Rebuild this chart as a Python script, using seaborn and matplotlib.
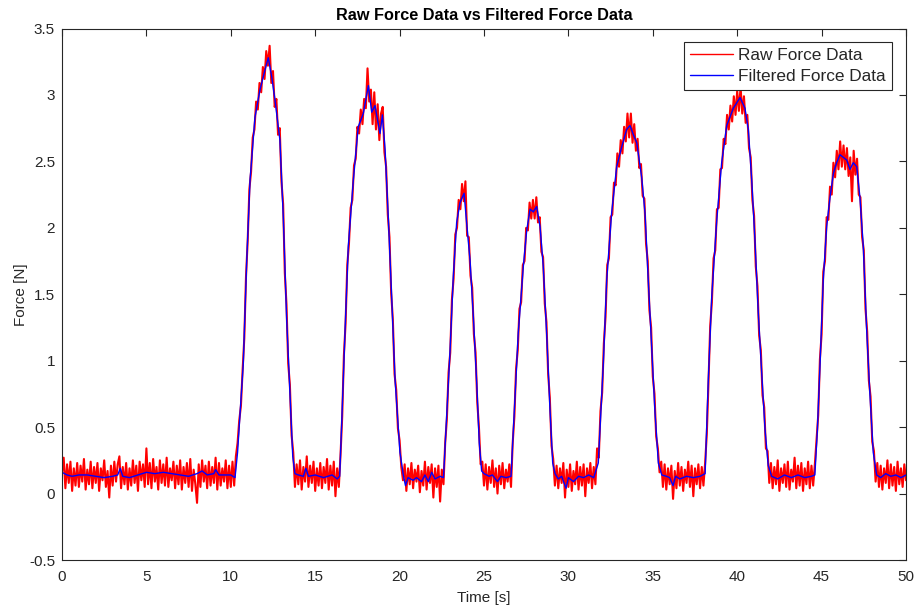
import numpy as np
import pandas as pd
import matplotlib
matplotlib.use("Agg")
import matplotlib.pyplot as plt
import seaborn as sns

# ---------------- data ----------------
sample_interval = 0.1  # s, spacing of the raw samples below (t = 0.0 ... 50.0)

raw_force = [
    0.16, 0.27, 0.04, 0.22, 0.08, 0.24, 0.02, 0.19, 0.06, 0.23,   # 0 s
    0.05, 0.21, 0.09, 0.26, 0.03, 0.18, 0.07, 0.24, 0.04, 0.20,   # 1 s
    0.08, 0.23, 0.02, 0.19, 0.10, 0.25, 0.05, 0.17, -0.03, 0.21,  # 2 s
    0.06, 0.24, 0.09, 0.22, 0.28, 0.04, 0.20, 0.07, 0.23, 0.03,   # 3 s
    0.19, 0.06, 0.25, 0.08, 0.21, 0.02, 0.24, 0.10, 0.22, 0.05,   # 4 s
    0.34, 0.07, 0.23, 0.04, 0.26, 0.09, 0.20, 0.03, 0.25, 0.08,   # 5 s
    0.22, 0.06, 0.27, 0.05, 0.19, 0.10, 0.24, 0.04, 0.21, 0.07,   # 6 s
    0.25, 0.03, 0.20, 0.08, 0.23, 0.05, 0.26, 0.02, 0.18, 0.07,   # 7 s
    -0.07, 0.22, 0.05, 0.25, 0.09, 0.21, 0.04, 0.24, 0.06, 0.20,  # 8 s
    0.08, 0.27, 0.03, 0.23, 0.06, 0.19, 0.09, 0.25, 0.04, 0.21,   # 9 s
    0.05, 0.24, 0.06, 0.28, 0.38, 0.55, 0.66, 0.93, 1.17, 1.63,   # 10 s
    1.90, 2.29, 2.42, 2.68, 2.74, 2.95, 2.89, 3.09, 3.02, 3.21,   # 11 s
    3.12, 3.33, 3.22, 3.37, 3.09, 3.18, 2.91, 2.97, 2.70, 2.75,   # 12 s
    2.35, 2.18, 1.66, 1.42, 0.98, 0.82, 0.44, 0.31, 0.05, 0.22,   # 13 s
    0.07, 0.25, 0.03, 0.20, 0.09, 0.28, 0.05, 0.21, 0.08, 0.24,   # 14 s
    0.02, 0.19, 0.06, 0.23, 0.04, 0.20, 0.08, 0.26, 0.03, 0.21,   # 15 s
    0.06, 0.24, -0.02, 0.19, 0.05, 0.29, 0.58, 1.04, 1.28, 1.72,  # 16 s
    1.88, 2.15, 2.21, 2.47, 2.52, 2.76, 2.71, 2.89, 2.78, 2.97,   # 17 s
    2.90, 3.20, 2.95, 3.04, 2.78, 3.02, 2.74, 2.93, 2.66, 2.86,   # 18 s
    2.91, 2.57, 2.46, 2.10, 1.93, 1.51, 1.31, 0.90, 0.78, 0.49,   # 19 s
    0.40, 0.20, 0.10, 0.22, 0.02, 0.19, 0.07, 0.23, 0.04, 0.18,   # 20 s
    0.09, 0.21, 0.01, 0.17, 0.06, 0.24, 0.03, 0.20, 0.08, 0.22,   # 21 s
    -0.03, 0.19, 0.05, 0.21, -0.06, 0.18, 0.07, 0.38, 0.56, 0.91, # 22 s
    1.06, 1.46, 1.62, 1.95, 2.00, 2.21, 2.14, 2.33, 2.20, 2.35,   # 23 s
    1.94, 1.93, 1.64, 1.55, 1.20, 1.06, 0.69, 0.50, 0.22, 0.24,   # 24 s
    0.06, 0.22, 0.03, 0.20, 0.08, 0.25, 0.05, 0.19, 0.00, 0.21,   # 25 s
    0.07, 0.23, 0.04, 0.18, 0.09, 0.22, 0.05, 0.38, 0.58, 0.94,   # 26 s
    1.08, 1.39, 1.44, 1.72, 1.75, 2.00, 1.98, 2.19, 2.07, 2.21,   # 27 s
    2.07, 2.23, 2.04, 2.08, 1.82, 1.78, 1.43, 1.29, 0.90, 0.72,   # 28 s
    0.36, 0.26, 0.06, 0.21, 0.04, 0.19, 0.08, 0.23, -0.03, 0.18,  # 29 s
    0.05, 0.22, 0.02, 0.17, 0.07, 0.24, 0.03, 0.20, 0.06, 0.22,   # 30 s
    -0.02, 0.19, 0.08, 0.23, 0.04, 0.20, 0.07, 0.34, 0.27, 0.62,  # 31 s
    0.76, 1.13, 1.33, 1.72, 1.77, 2.08, 2.10, 2.34, 2.32, 2.56,   # 32 s
    2.46, 2.66, 2.56, 2.76, 2.65, 2.86, 2.68, 2.86, 2.64, 2.78,   # 33 s
    2.58, 2.67, 2.45, 2.48, 2.24, 2.22, 1.88, 1.75, 1.38, 1.25,   # 34 s
    0.88, 0.75, 0.43, 0.34, 0.16, 0.24, 0.05, 0.22, 0.03, 0.19,   # 35 s
    0.07, 0.21, -0.04, 0.17, 0.04, 0.23, 0.06, 0.20, 0.02, 0.18,  # 36 s
    0.08, 0.24, 0.05, 0.21, -0.02, 0.19, 0.07, 0.22, 0.04, 0.20,  # 37 s
    0.06, 0.23, 0.45, 0.84, 1.26, 1.44, 1.77, 1.83, 2.14, 2.15,   # 38 s
    2.44, 2.45, 2.67, 2.63, 2.85, 2.74, 2.92, 2.80, 2.99, 2.85,   # 39 s
    3.03, 2.88, 3.06, 2.86, 2.99, 2.79, 2.85, 2.60, 2.53, 2.21,   # 40 s
    2.09, 1.71, 1.56, 1.19, 1.08, 0.74, 0.65, 0.34, 0.32, 0.08,   # 41 s
    0.23, 0.04, 0.20, 0.07, 0.25, 0.02, 0.19, 0.08, 0.22, 0.05,   # 42 s
    0.24, 0.03, 0.18, 0.09, 0.27, 0.04, 0.21, 0.06, 0.23, 0.02,   # 43 s
    0.19, 0.07, 0.24, 0.04, 0.21, 0.06, 0.22, 0.41, 0.59, 1.01,   # 44 s
    1.20, 1.67, 1.75, 2.08, 2.06, 2.31, 2.25, 2.49, 2.38, 2.58,   # 45 s
    2.44, 2.65, 2.46, 2.62, 2.44, 2.60, 2.39, 2.53, 2.20, 2.58,   # 46 s
    2.40, 2.52, 2.25, 2.23, 1.93, 1.83, 1.39, 1.22, 0.85, 0.73,   # 47 s
    0.39, 0.32, 0.09, 0.23, 0.05, 0.21, 0.03, 0.19, 0.08, 0.25,   # 48 s
    0.04, 0.22, 0.06, 0.20, 0.02, 0.24, 0.07, 0.19, 0.05, 0.22,   # 49 s
    0.10,                                                         # 50 s
]

filt_time = [
    0.0, 0.3, 0.6, 1.0, 1.5, 2.0, 2.5, 3.0, 3.3, 3.45, 3.6, 4.0, 4.5, 5.0, 5.5,
    6.0, 6.5, 7.0, 7.5, 8.0, 8.3, 8.6, 9.0, 9.1, 9.3, 9.6, 10.0, 10.25,
    10.4, 10.74, 10.94, 11.14, 11.43, 11.73, 12.03, 12.22, 12.42, 12.62, 12.91,
    13.11, 13.31, 13.51, 13.67, 13.8,
    14.0, 14.3, 14.45, 14.6, 15.0, 15.5, 16.0, 16.3, 16.45,
    16.57, 16.77, 16.96, 17.26, 17.55, 17.85, 18.15, 18.35, 18.54, 18.84, 18.98,
    19.14, 19.33, 19.53, 19.73, 20.02, 20.22,
    20.35, 20.5, 20.8, 21.0, 21.3, 21.5, 21.7, 21.9, 22.1, 22.4, 22.6,
    22.79, 22.99, 23.18, 23.38, 23.58, 23.82, 23.97, 24.17, 24.37, 24.57, 24.72, 24.86,
    25.0, 25.3, 25.5, 25.8, 26.0, 26.3, 26.6,
    26.78, 27.03, 27.33, 27.53, 27.73, 27.92, 28.12, 28.32, 28.51, 28.71, 28.91, 29.07, 29.21,
    29.4, 29.6, 29.86, 30.0, 30.3, 30.6, 30.9, 31.2, 31.5, 31.77,
    32.07, 32.27, 32.56, 32.86, 33.16, 33.45, 33.65, 33.85, 34.05, 34.34, 34.54,
    34.73, 34.93, 35.13, 35.33, 35.53,
    35.8, 36.0, 36.2, 36.35, 36.6, 37.0, 37.4, 37.8, 38.1,
    38.29, 38.49, 38.79, 39.08, 39.38, 39.77, 40.17, 40.46, 40.66, 40.86, 41.05,
    41.25, 41.45, 41.65, 41.84, 42.04,
    42.4, 42.8, 43.2, 43.6, 44.0, 44.4, 44.6,
    44.75, 44.91, 45.1, 45.3, 45.5, 45.7, 45.89, 46.09, 46.29, 46.49, 46.68, 46.88,
    47.08, 47.27, 47.47, 47.67, 47.87, 48.06, 48.26,
    48.5, 48.8, 49.1, 49.4, 49.7, 50.0,
]

filt_force = [
    0.16, 0.14, 0.13, 0.14, 0.14, 0.13, 0.12, 0.13, 0.14, 0.19, 0.13, 0.12, 0.14, 0.16, 0.15,
    0.16, 0.15, 0.14, 0.13, 0.15, 0.17, 0.14, 0.15, 0.18, 0.14, 0.14, 0.14, 0.12,
    0.31, 0.98, 1.74, 2.36, 2.83, 3.04, 3.19, 3.28, 3.14, 2.96, 2.66,
    2.08, 1.31, 0.73, 0.28, 0.15,
    0.14, 0.13, 0.19, 0.13, 0.14, 0.12, 0.14, 0.11, 0.13,
    0.53, 1.23, 1.86, 2.36, 2.76, 2.86, 3.07, 2.87, 2.92, 2.71, 2.85,
    2.59, 2.08, 1.48, 0.86, 0.31, 0.14,
    0.06, 0.12, 0.10, 0.12, 0.09, 0.14, 0.09, 0.16, 0.11, 0.13, 0.12,
    0.58, 1.08, 1.63, 2.04, 2.19, 2.26, 2.04, 1.76, 1.33, 0.83, 0.38, 0.17,
    0.15, 0.13, 0.14, 0.09, 0.13, 0.12, 0.13,
    0.58, 1.21, 1.71, 1.98, 2.14, 2.12, 2.16, 2.01, 1.71, 1.21, 0.63, 0.23, 0.15,
    0.11, 0.13, 0.04, 0.12, 0.09, 0.13, 0.12, 0.14, 0.12, 0.23,
    0.98, 1.61, 2.11, 2.46, 2.61, 2.74, 2.77, 2.70, 2.64, 2.38, 2.11,
    1.61, 1.11, 0.61, 0.23, 0.14,
    0.13, 0.12, 0.06, 0.13, 0.11, 0.13, 0.12, 0.13, 0.15,
    0.86, 1.48, 2.06, 2.49, 2.77, 2.90, 2.98, 2.90, 2.74, 2.36, 1.91,
    1.36, 0.91, 0.48, 0.21, 0.13,
    0.11, 0.14, 0.12, 0.14, 0.12, 0.13, 0.14,
    0.48, 0.98, 1.61, 2.01, 2.23, 2.41, 2.49, 2.55, 2.53, 2.51, 2.44, 2.49,
    2.46, 2.23, 1.86, 1.23, 0.73, 0.31, 0.14,
    0.12, 0.15, 0.13, 0.14, 0.12, 0.14,
]

series_labels = ["Raw Force Data", "Filtered Force Data"]
title_text = "Raw Force Data vs Filtered Force Data"
x_label = "Time [s]"
y_label = "Force [N]"
x_ticks = [0, 5, 10, 15, 20, 25, 30, 35, 40, 45, 50]
y_ticks = [-0.5, 0, 0.5, 1, 1.5, 2, 2.5, 3, 3.5]
y_tick_labels = ["-0.5", "0", "0.5", "1", "1.5", "2", "2.5", "3", "3.5"]

# ---------------- tables ----------------
raw_df = pd.DataFrame({"time": np.arange(len(raw_force)) * sample_interval,
                       "force": raw_force})
filt_df = pd.DataFrame({"time": filt_time, "force": filt_force})

# ---------------- plot ----------------
sns.set_style("white")
plt.rcParams["font.family"] = ["Liberation Sans", "DejaVu Sans"]
text_color = "#262626"

fig = plt.figure(figsize=(9.16, 6.12), dpi=100)
ax = fig.add_axes([62 / 916, 1 - 560 / 612, 844 / 916, 531.5 / 612])

sns.lineplot(data=raw_df, x="time", y="force", ax=ax, color="#ff0000",
             linewidth=1.5, estimator=None, sort=False, label=series_labels[0])
sns.lineplot(data=filt_df, x="time", y="force", ax=ax, color="#0000ff",
             linewidth=1.0, estimator=None, sort=False, label=series_labels[1])

ax.set_xlim(0, 50)
ax.set_ylim(-0.5, 3.5)
ax.set_xticks(x_ticks)
ax.set_xticklabels([str(v) for v in x_ticks])
ax.set_yticks(y_ticks)
ax.set_yticklabels(y_tick_labels)
ax.tick_params(direction="in", top=True, right=True, length=5, width=0.8,
               colors=text_color, labelsize=11)
ax.tick_params(axis="x", pad=7)
ax.tick_params(axis="y", pad=5)
for sp in ax.spines.values():
    sp.set_visible(True)
    sp.set_color(text_color)
    sp.set_linewidth(0.8)

ax.set_title(title_text, fontsize=11.7, fontweight="bold", color="#000000", pad=6)
ax.set_xlabel(x_label, fontsize=11, color=text_color, labelpad=5)
ax.set_ylabel(y_label, fontsize=11, color=text_color, labelpad=0.5)

leg = ax.legend(loc="upper right", bbox_to_anchor=(0.9834, 0.9746), fontsize=12.4,
                frameon=True, fancybox=False, framealpha=1, edgecolor=text_color,
                handlelength=2.5, handletextpad=0.3, borderpad=0.35,
                labelspacing=0.35, borderaxespad=0)
leg.get_frame().set_linewidth(0.8)
for h in leg.get_lines():
    h.set_linewidth(1.0)
for t in leg.get_texts():
    t.set_color(text_color)

fig.savefig("out.png", dpi=100)
